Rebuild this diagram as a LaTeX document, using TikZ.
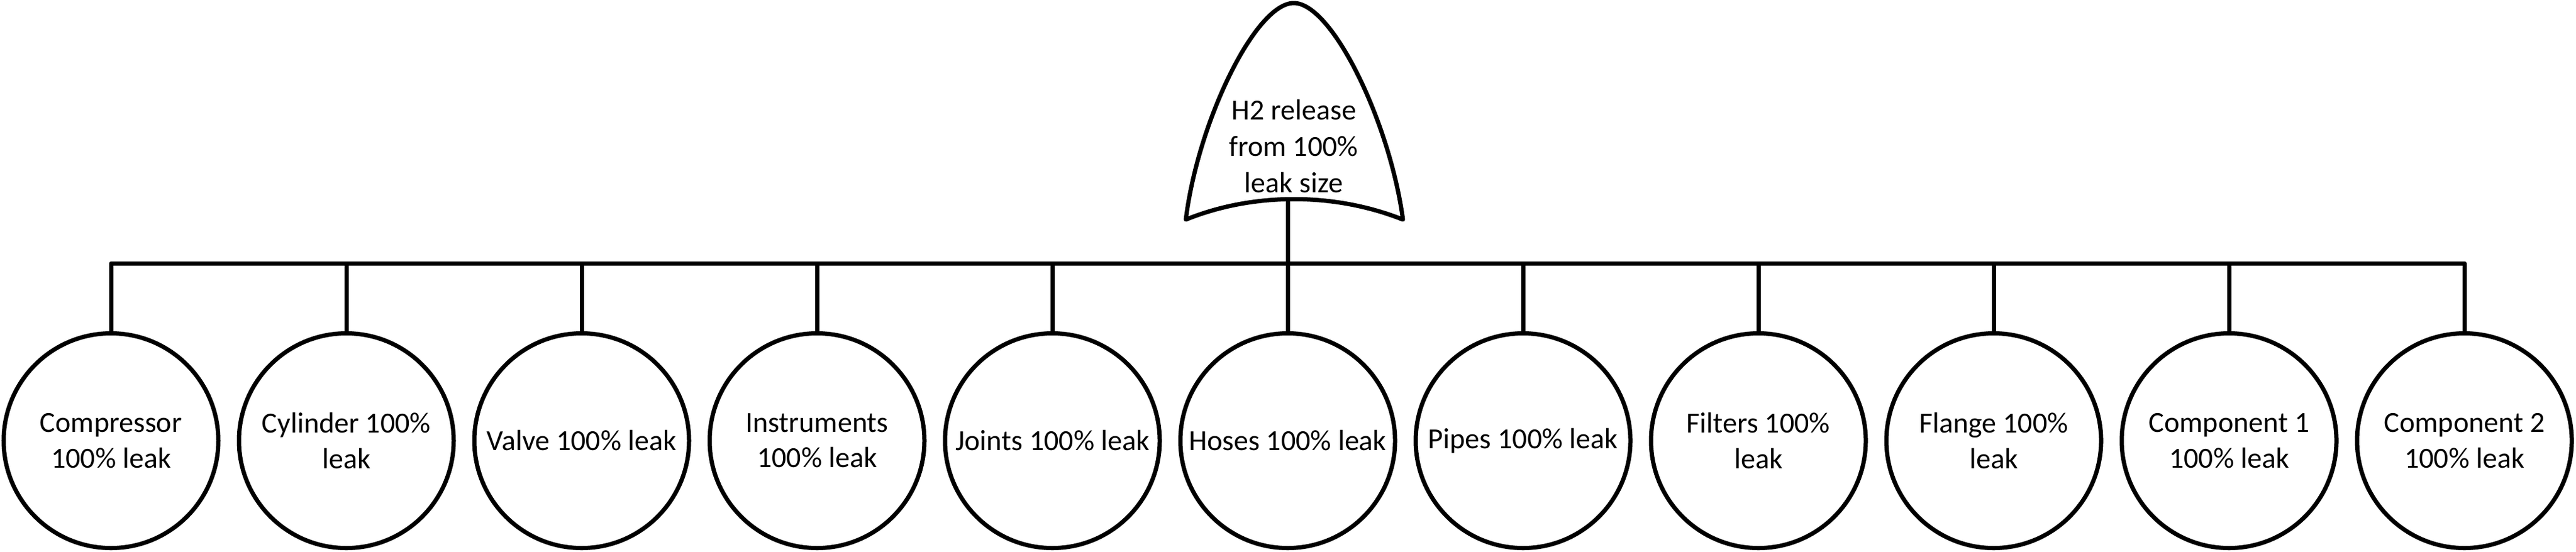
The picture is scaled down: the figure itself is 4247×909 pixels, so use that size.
\documentclass[tikz,border=0pt]{standalone}
\usepackage{fontspec}
\setmainfont{Carlito}
\begin{document}
\begin{tikzpicture}[x=0.2pt,y=-0.2pt,
  line width=1.4pt, line join=round,
  evt/.style={circle,draw,line width=1.4pt,minimum size=70.8pt,inner sep=0pt,align=center,
    font=\fontsize{9.6}{11.7}\selectfont},
  gatetext/.style={inner sep=0pt,align=center,font=\fontsize{9.6}{12}\selectfont},
  conn/.style={line width=1.4pt}]
\useasboundingbox (0,0) rectangle (4247,909);
% gate shape
\draw (1955,362) .. controls (1975,200) and (2070,5) .. (2133,5)
  .. controls (2196,5) and (2291,200) .. (2313,362)
  .. controls (2200,317) and (2066,317) .. (1955,362) -- cycle;
\node[gatetext] (gate) at (2133,241) {H2 release\\from 100\%\\leak size};
\coordinate (gb) at (2123,328);
\coordinate (bus) at (2123,434);
% events
\foreach \i/\t in {1/{Compressor\\100\% leak},2/{Cylinder 100\%\\leak},3/{Valve 100\% leak},
  4/{Instruments\\100\% leak},5/{Joints 100\% leak},6/{Hoses 100\% leak},7/{Pipes 100\% leak},
  8/{Filters 100\%\\leak},9/{Flange 100\%\\leak},10/{Component 1\\100\% leak},11/{Component 2\\100\% leak}}{
  \node[evt] (c\i) at ({183+(\i-1)*388},726.5) {\t};
}
\draw[conn] (gb) -- (bus);
\foreach \i in {1,...,11}{
  \draw[conn] (c\i.north) -- (c\i.north |- bus) -- (bus);
}
\end{tikzpicture}
\end{document}
